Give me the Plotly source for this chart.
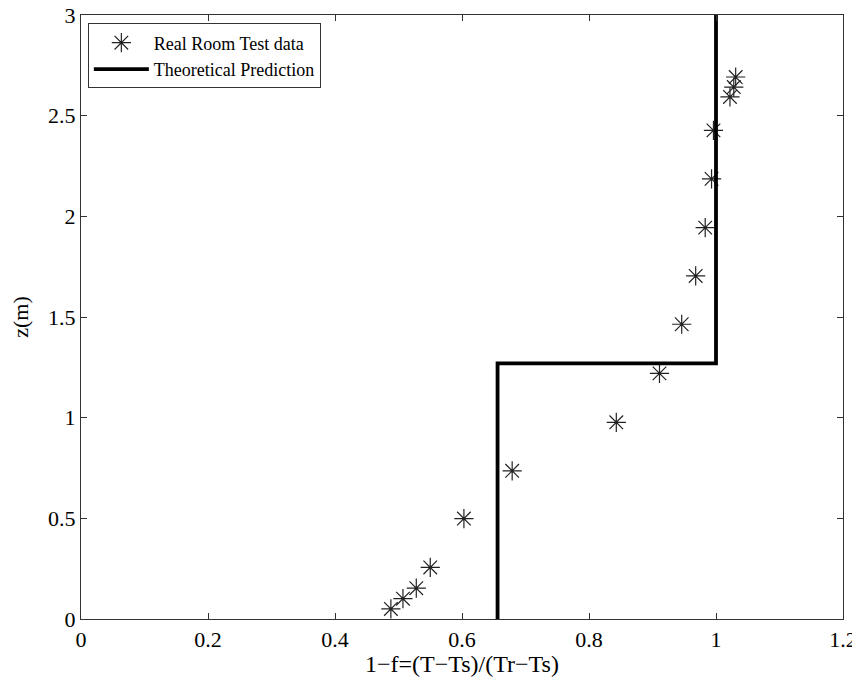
import plotly.graph_objects as go

# Data
test_x = [0.488, 0.507, 0.528, 0.550, 0.603, 0.679, 0.843, 0.911, 0.946, 0.968, 0.983, 0.993, 0.996, 1.022, 1.028, 1.031]
test_z = [0.050, 0.101, 0.153, 0.256, 0.499, 0.736, 0.977, 1.220, 1.464, 1.704, 1.944, 2.186, 2.427, 2.593, 2.642, 2.692]
theory_x = [0.656, 0.656, 1.0, 1.0]
theory_z = [0.0, 1.27, 1.27, 3.0]
x_ticks = [0, 0.2, 0.4, 0.6, 0.8, 1, 1.2]
x_tick_labels = ["0", "0.2", "0.4", "0.6", "0.8", "1", "1.2"]
z_ticks = [0, 0.5, 1, 1.5, 2, 2.5, 3]
z_tick_labels = ["0", "0.5", "1", "1.5", "2", "2.5", "3"]

FONT = "Liberation Serif, Times New Roman, serif"

fig = go.Figure()
fig.add_trace(go.Scatter(
    x=test_x, y=test_z, mode="markers", name="Real Room Test data",
    marker=dict(symbol="asterisk-open", size=16, color="#222222",
                line=dict(color="#222222", width=1.2)),
))
fig.add_trace(go.Scatter(
    x=theory_x, y=theory_z, mode="lines", name="Theoretical Prediction",
    line=dict(color="black", width=3.8),
))

axis_common = dict(
    showline=True, linecolor="#333333", linewidth=1.2, mirror="ticks",
    ticks="inside", ticklen=6, tickcolor="#333333", tickwidth=1,
    showgrid=False, zeroline=False, automargin=False,
    ticklabeloverflow="allow",
    tickfont=dict(family=FONT, size=22, color="black"),
)

fig.update_layout(
    width=860, height=678,
    margin=dict(l=73, r=25, t=7, b=67),
    paper_bgcolor="white", plot_bgcolor="white",
    font=dict(family=FONT, size=19, color="black"),
    xaxis=dict(range=[0, 1.2], tickvals=x_ticks, ticktext=x_tick_labels,
               title=dict(text="1\u2212f=(T\u2212Ts)/(Tr\u2212Ts)", standoff=2,
                          font=dict(family=FONT, size=24)),
               **axis_common),
    yaxis=dict(range=[0, 3], tickvals=z_ticks, ticktext=z_tick_labels,
               title=dict(text="z(m)", standoff=14,
                          font=dict(family=FONT, size=22)),
               **axis_common),
    legend=dict(x=0.009, y=0.986, xanchor="left", yanchor="top",
                bgcolor="white", bordercolor="#333333", borderwidth=1,
                font=dict(family=FONT, size=18), tracegroupgap=0,
                itemwidth=55),
    showlegend=True,
)

fig.write_html("out.html")
